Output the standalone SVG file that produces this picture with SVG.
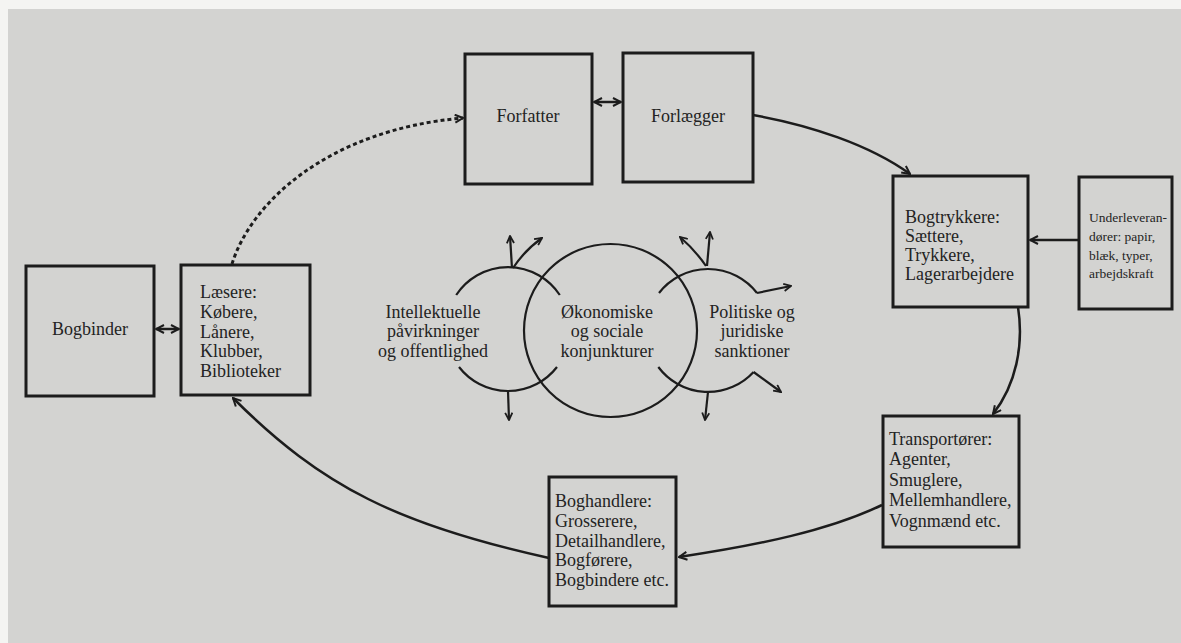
<svg xmlns="http://www.w3.org/2000/svg" width="1181" height="643" viewBox="0 0 1181 643">
  <style>
    .box { fill: none; stroke: #1c1c1c; stroke-width: 3; }
    .t { font-family: "Liberation Serif", "DejaVu Serif", serif; font-size: 18px; fill: #232323; }
    .ts { font-family: "Liberation Serif", "DejaVu Serif", serif; font-size: 13.5px; fill: #232323; }
    .c { text-anchor: middle; }
    .con { fill: none; stroke: #1c1c1c; stroke-width: 2.5; }
    .circ { fill: none; stroke: #1c1c1c; stroke-width: 2.2; }
    .dash { stroke-dasharray: 4 3; stroke-width: 3; }
  </style>
  <defs>
    <marker id="ah" viewBox="0 0 10 10" refX="9" refY="5" markerWidth="10" markerHeight="10" markerUnits="userSpaceOnUse" orient="auto-start-reverse">
      <path d="M1,1 L9,5 L1,9" fill="none" stroke="#1c1c1c" stroke-width="2"/>
    </marker>
    <marker id="ahs" viewBox="0 0 10 10" refX="9" refY="5" markerWidth="9" markerHeight="9" markerUnits="userSpaceOnUse" orient="auto-start-reverse">
      <path d="M1,1 L9,5 L1,9" fill="none" stroke="#1c1c1c" stroke-width="2"/>
    </marker>
  </defs>
  <rect x="0" y="0" width="1181" height="643" fill="#f4f4f2"/>
  <rect x="8" y="9" width="1173" height="634" fill="#d3d3d1"/>

  <g id="connectors">
    <path class="con" d="M594,102 L621,102" marker-start="url(#ah)" marker-end="url(#ah)"/>
    <path class="con" d="M156,329 L179,329" marker-start="url(#ah)" marker-end="url(#ah)"/>
    <path class="con dash" d="M232,264 C250,205 325,130 463,118" marker-end="url(#ah)"/>
    <path class="con" d="M753,115 C810,125 870,145 910,174" marker-end="url(#ah)"/>
    <path class="con" d="M1079,240 L1030,240" marker-end="url(#ah)"/>
    <path class="con" d="M1018,307 C1024,345 1016,385 993,414" marker-end="url(#ah)"/>
    <path class="con" d="M882,505 C830,530 760,545 679,557" marker-end="url(#ah)"/>
    <path class="con" d="M549,558 C399,525 322,487 233,398" marker-end="url(#ah)"/>
  </g>

  <g id="circles">
    <circle class="circ" cx="610.5" cy="330.5" r="86.5"/>
    <path class="circ" d="M456.2,295 A62,62 0 0 1 559.8,295"/>
    <path class="circ" d="M459,367 A62,62 0 0 0 557,367"/>
    <path class="circ" d="M659,293 A62,62 0 0 1 757,293"/>
    <path class="circ" d="M658.3,367 A62,62 0 0 0 753.6,372"/>
    <path class="circ" d="M512,268 L510,236" marker-end="url(#ahs)"/>
    <path class="circ" d="M513,268 Q525,250 542,238" marker-end="url(#ahs)"/>
    <path class="circ" d="M508,391 L509,420" marker-end="url(#ahs)"/>
    <path class="circ" d="M707,266 L710,232" marker-end="url(#ahs)"/>
    <path class="circ" d="M706,266 Q695,250 680,237" marker-end="url(#ahs)"/>
    <path class="circ" d="M757,293 L791,286" marker-end="url(#ahs)"/>
    <path class="circ" d="M753.6,372 L781,392" marker-end="url(#ahs)"/>
    <path class="circ" d="M708,392 L705,420" marker-end="url(#ahs)"/>
    <text class="t c" x="433" y="318">Intellektuelle</text>
    <text class="t c" x="433" y="337">påvirkninger</text>
    <text class="t c" x="433" y="357">og offentlighed</text>
    <text class="t c" x="607" y="318">Økonomiske</text>
    <text class="t c" x="607" y="337">og sociale</text>
    <text class="t c" x="607" y="357">konjunkturer</text>
    <text class="t c" x="752" y="318">Politiske og</text>
    <text class="t c" x="752" y="337">juridiske</text>
    <text class="t c" x="752" y="357">sanktioner</text>
  </g>

  <g id="forfatter">
    <rect class="box" x="465" y="54" width="127" height="130"/>
    <text class="t c" x="528" y="122">Forfatter</text>
  </g>
  <g id="forlaegger">
    <rect class="box" x="623" y="53" width="130" height="129"/>
    <text class="t c" x="688" y="122">Forlægger</text>
  </g>
  <g id="bogtrykkere">
    <rect class="box" x="893" y="176" width="135" height="131"/>
    <text class="t" x="905" y="223">Bogtrykkere:</text>
    <text class="t" x="905" y="242">Sættere,</text>
    <text class="t" x="905" y="261">Trykkere,</text>
    <text class="t" x="905" y="280">Lagerarbejdere</text>
  </g>
  <g id="underleverandoerer">
    <rect class="box" x="1079" y="177" width="93" height="132"/>
    <text class="ts" x="1089" y="222">Underleveran-</text>
    <text class="ts" x="1089" y="241">dører: papir,</text>
    <text class="ts" x="1089" y="260">blæk, typer,</text>
    <text class="ts" x="1089" y="278">arbejdskraft</text>
  </g>
  <g id="transportoerer">
    <rect class="box" x="883" y="416" width="136" height="131"/>
    <text class="t" x="889" y="445">Transportører:</text>
    <text class="t" x="889" y="465">Agenter,</text>
    <text class="t" x="889" y="486">Smuglere,</text>
    <text class="t" x="889" y="506">Mellemhandlere,</text>
    <text class="t" x="889" y="527">Vognmænd etc.</text>
  </g>
  <g id="boghandlere">
    <rect class="box" x="549" y="477" width="127" height="129"/>
    <text class="t" x="555" y="507">Boghandlere:</text>
    <text class="t" x="555" y="527">Grosserere,</text>
    <text class="t" x="555" y="547">Detailhandlere,</text>
    <text class="t" x="555" y="566">Bogførere,</text>
    <text class="t" x="555" y="586">Bogbindere etc.</text>
  </g>
  <g id="laesere">
    <rect class="box" x="181" y="265" width="129" height="130"/>
    <text class="t" x="200" y="298">Læsere:</text>
    <text class="t" x="200" y="318">Købere,</text>
    <text class="t" x="200" y="338">Lånere,</text>
    <text class="t" x="200" y="357">Klubber,</text>
    <text class="t" x="200" y="377">Biblioteker</text>
  </g>
  <g id="bogbinder">
    <rect class="box" x="26" y="266" width="128" height="130"/>
    <text class="t c" x="90" y="335">Bogbinder</text>
  </g>
</svg>
